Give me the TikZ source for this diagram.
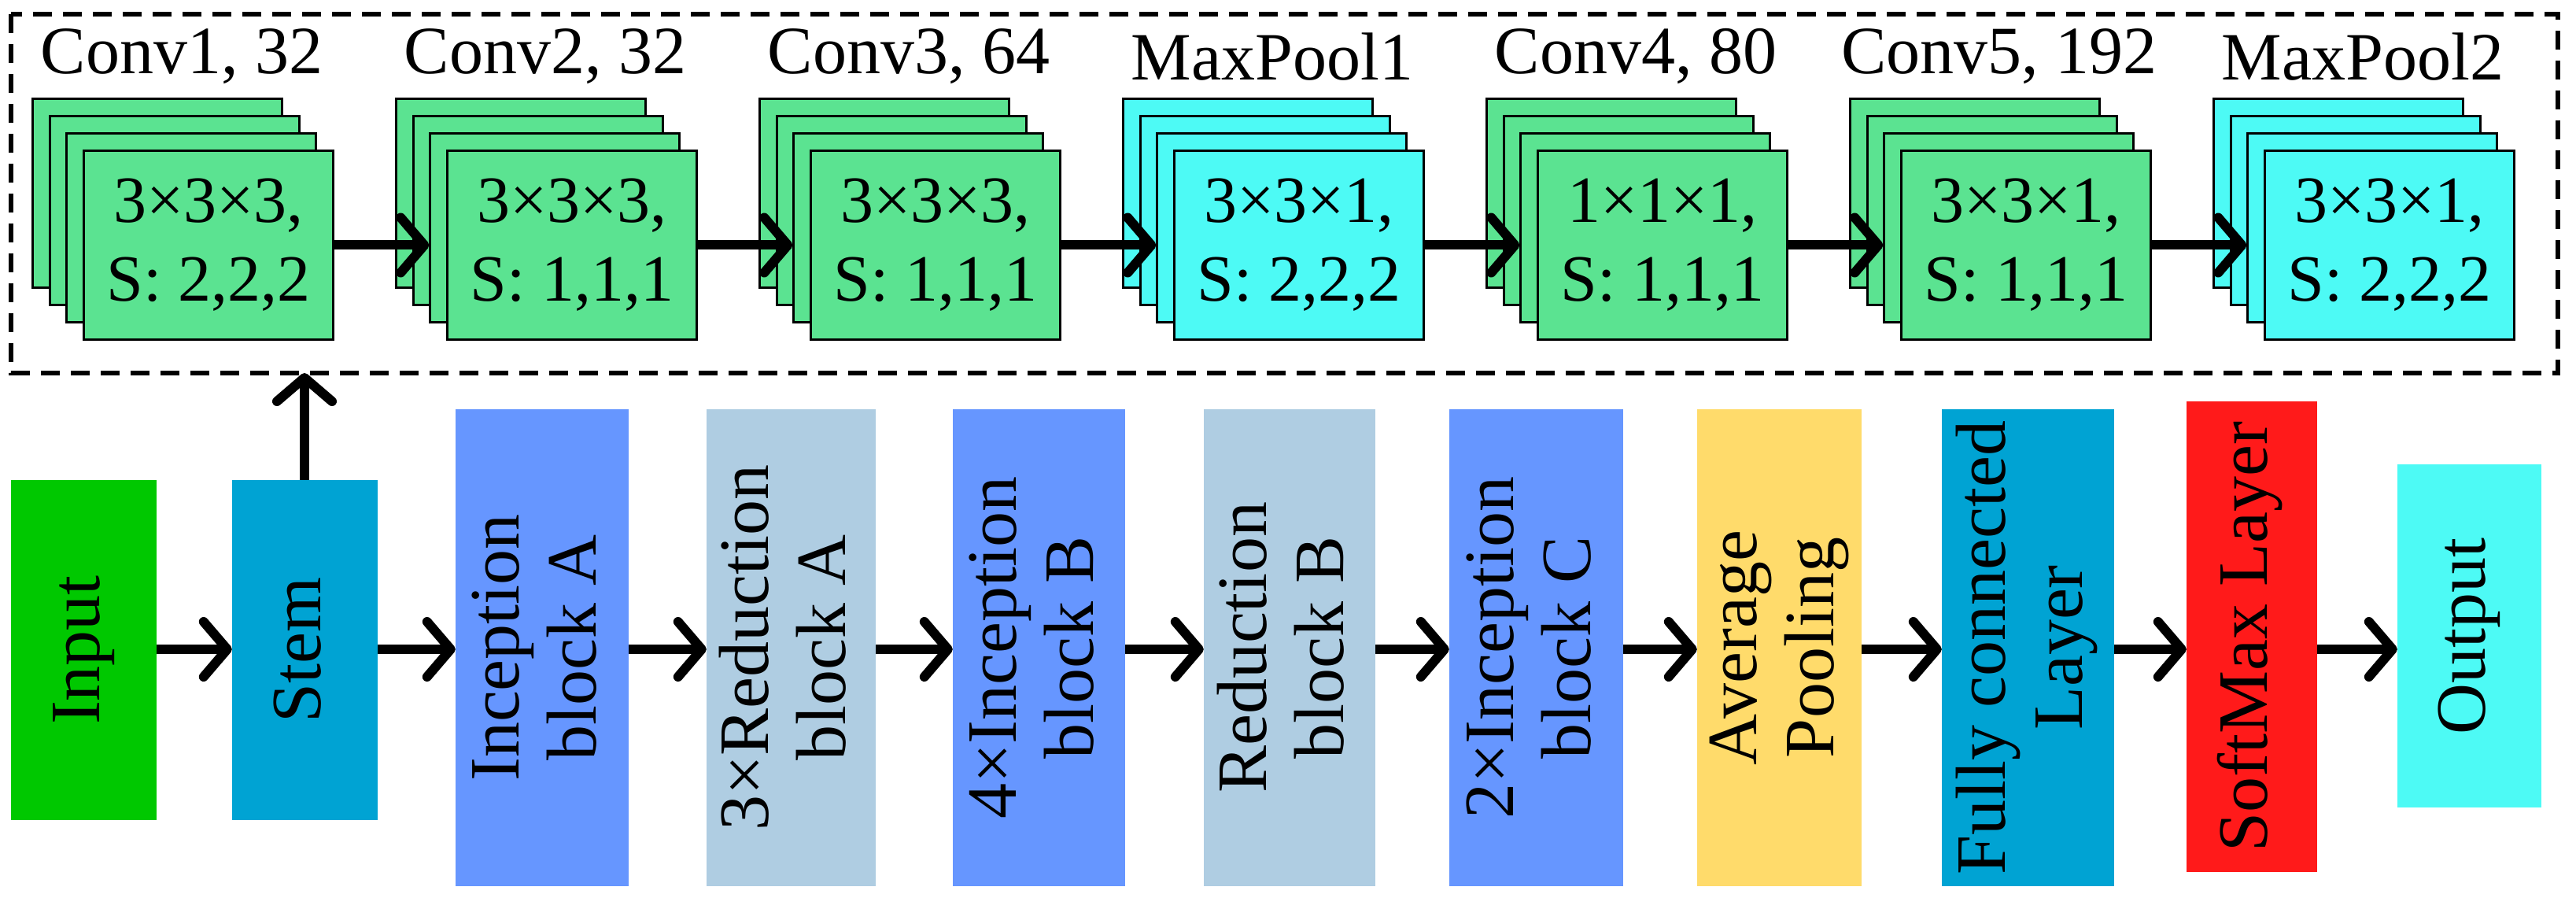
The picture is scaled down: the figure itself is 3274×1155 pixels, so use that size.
\documentclass[tikz,border=0pt]{standalone}
\usepackage{fontspec}
\setmainfont{Liberation Serif}
\usetikzlibrary{arrows.meta}
\definecolor{cg}{HTML}{5BE391}
\definecolor{cc}{HTML}{4DFAF5}
\definecolor{cin}{HTML}{00C800}
\definecolor{cst}{HTML}{00A3D3}
\definecolor{cia}{HTML}{6696FF}
\definecolor{cra}{HTML}{AFCDE2}
\definecolor{cav}{HTML}{FFDB6B}
\definecolor{csm}{HTML}{FF1A1A}
\begin{document}
\begin{tikzpicture}[x=1pt,y=-1pt,
  card/.style={draw=black,line width=3pt,inner sep=0pt,minimum width=317pt,minimum height=240pt,font=\fontsize{84}{100}\selectfont,align=center},
  title/.style={font=\fontsize{86}{96}\selectfont,inner sep=0pt},
  box/.style={inner sep=0pt,font=\fontsize{90}{98}\selectfont},
  arr/.style={line width=12pt,-{Straight Barb[length=30pt,width=70pt,line cap=round,line join=round]}}]
\useasboundingbox (0,0) rectangle (3274,1155);
\draw[line width=6pt,dash pattern=on 24pt off 14pt] (14,18) rectangle (3251,474);
% top stacks
\foreach \k/\col/\ta/\tb/\ttl in {0/cg/{3×3×3,}/{S: 2,2,2}/{Conv1, 32},1/cg/{3×3×3,}/{S: 1,1,1}/{Conv2, 32},2/cg/{3×3×3,}/{S: 1,1,1}/{Conv3, 64},3/cc/{3×3×1,}/{S: 2,2,2}/{MaxPool1},4/cg/{1×1×1,}/{S: 1,1,1}/{Conv4, 80},5/cg/{3×3×1,}/{S: 1,1,1}/{Conv5, 192},6/cc/{3×3×1,}/{S: 2,2,2}/{MaxPool2}}{
  \pgfmathsetmacro\xx{105+462*\k}
  \foreach \j in {3,2,1}{
    \node[card,fill=\col,anchor=north west] (c\k b\j) at ({\xx-21.7*\j},{190-22*\j}) {};
  }
  \node[card,fill=\col,anchor=north west] (c\k) at (\xx,190) {\ta\\\tb};
  \node[title] (t\k) at ({\xx+126},72) {\ttl};
}
\foreach \k in {0,...,5}{
  \pgfmathtruncatemacro\n{\k+1}
  \draw[arr] (c\k.east) -- (c\n b1.west |- c\k.east);
}
% bottom
\newcommand\bx[7]{\node[box,fill=#2,minimum width={#4-#3},minimum height={#6-#5}] (#1) at ({(#3+#4)/2},{(#5+#6)/2}) {\rotatebox{90}{\begin{tabular}{@{}c@{}}#7\end{tabular}}};}
\bx{in}{cin}{14}{199}{610}{1042}{Input}
\bx{st}{cst}{295}{480}{610}{1042}{Stem}
\bx{ia}{cia}{579}{799}{520}{1126}{Inception\\block A}
\bx{ra}{cra}{898}{1113}{520}{1126}{3×Reduction\\block A}
\bx{ib}{cia}{1211}{1430}{520}{1126}{4×Inception\\block B}
\bx{rb}{cra}{1530}{1748}{520}{1126}{Reduction\\block B}
\bx{ic}{cia}{1842}{2063}{520}{1126}{2×Inception\\block C}
\bx{av}{cav}{2157}{2366}{520}{1126}{Average\\Pooling}
\bx{fc}{cst}{2468}{2687}{520}{1126}{Fully connected\\Layer}
\bx{sm}{csm}{2779}{2945}{510}{1108}{SoftMax Layer}
\bx{ou}{cc}{3047}{3230}{590}{1026}{Output}
\foreach \a/\b in {in/st,st/ia,ia/ra,ra/ib,ib/rb,rb/ic,ic/av,av/fc,fc/sm,sm/ou}{
  \draw[arr] (\a.east |- 0,825) -- (\b.west |- 0,825);
}
\coordinate (db) at (387,474);
\draw[arr] (st.north -| db) -- (db);
\end{tikzpicture}
\end{document}
